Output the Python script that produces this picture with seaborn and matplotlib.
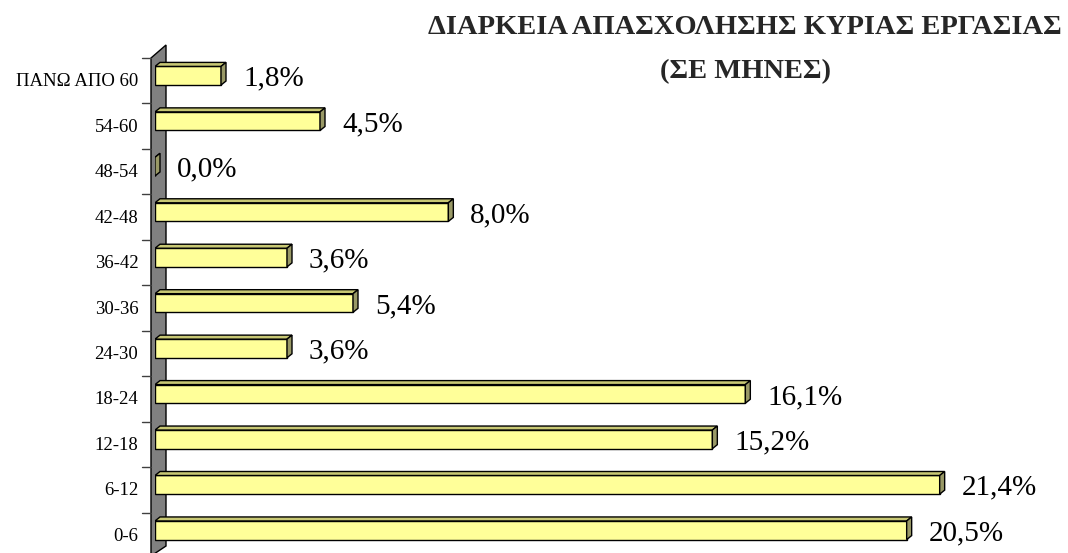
import numpy as np
import pandas as pd
import matplotlib.pyplot as plt
from matplotlib.patches import Polygon
import seaborn as sns

# ---------------------------------------------------------------------------
# Data (top of the chart first)
# ---------------------------------------------------------------------------
categories = ["ΠΑΝΩ ΑΠΟ 60", "54-60", "48-54", "42-48", "36-42", "30-36",
              "24-30", "18-24", "12-18", "6-12", "0-6"]
shares = [1.8, 4.5, 0.0, 8.0, 3.6, 5.4, 3.6, 16.1, 15.2, 21.4, 20.5]
title_lines = ["ΔΙΑΡΚΕΙΑ ΑΠΑΣΧΟΛΗΣΗΣ ΚΥΡΙΑΣ ΕΡΓΑΣΙΑΣ", "(ΣΕ ΜΗΝΕΣ)"]

FRONT = "#ffff99"
TOP = "#c8c874"
SIDE = "#999966"
WALL = "#808080"

sns.set_theme(style="white")
plt.rcParams["font.family"] = ["Liberation Serif", "DejaVu Serif"]

df = pd.DataFrame({"period": categories, "share": shares})

W, H = 1068, 553
fig = plt.figure(figsize=(W / 100, H / 100), dpi=100)
ax_w, ax_h = 913, 500
ax = fig.add_axes([155 / W, 0, ax_w / W, ax_h / H])

sns.barplot(data=df, y="period", x="share", orient="h", color=FRONT,
            saturation=1, width=0.41, edgecolor="black", linewidth=1,
            ax=ax, zorder=3)

n = len(categories)
XMAX = 24.9
ax.set_xlim(0, XMAX)
ax.set_ylim(n - 0.5, -0.5)
for s in ax.spines.values():
    s.set_visible(False)
ax.set_xticks([])
ax.set_xlabel("")
ax.set_ylabel("")

# pixel -> data units
ux = XMAX / ax_w
uy = n / ax_h
dx, dy = 5 * ux, 4 * uy

# 3D faces of the bars
for p, v in zip(ax.patches, shares):
    x0, y0, w, h = p.get_x(), p.get_y(), p.get_width(), p.get_height()
    top = Polygon([(x0, y0), (x0 + w, y0), (x0 + w + dx, y0 - dy), (x0 + dx, y0 - dy)],
                  closed=True, facecolor=TOP, edgecolor="black", lw=1, zorder=3)
    side = Polygon([(x0 + w, y0), (x0 + w + dx, y0 - dy), (x0 + w + dx, y0 + h - dy), (x0 + w, y0 + h)],
                   closed=True, facecolor=SIDE, edgecolor="black", lw=1, zorder=3)
    ax.add_patch(top)
    ax.add_patch(side)
    ax.text(x0 + w + 22 * ux, y0 + h / 2 + 3 * uy, f"{v:.1f}%".replace(".", ","),
            ha="left", va="center", fontsize=21, color="black")

# grey side wall
wall = Polygon([(-4 * ux, -0.5 + 5 * uy), (11 * ux, -0.5 - 8 * uy),
                (11 * ux, n - 0.5 - 7 * uy), (-4 * ux, n - 0.5 + 3 * uy)],
               closed=True, facecolor=WALL, edgecolor="black", lw=1,
               zorder=1, clip_on=False)
ax.add_patch(wall)

# tick marks on the wall edge, between categories
for k in range(n + 1):
    yb = k - 0.5 + 5 * uy
    ax.plot([-13 * ux, -4 * ux], [yb, yb], color="#404040", lw=1,
            clip_on=False, zorder=2)

ax.set_yticks(np.arange(n) + 4 * uy, labels=categories)
ax.tick_params(axis="y", length=0, pad=12, labelsize=13.5, colors="black")

fig.text(745 / W, 1 - 27 / H, title_lines[0], ha="center", va="center",
         fontsize=20.5, fontweight="bold")
fig.text(745 / W, 1 - 72 / H, title_lines[1], ha="center", va="center",
         fontsize=20.5, fontweight="bold")

fig.savefig("out.png", dpi=100, facecolor="white")
